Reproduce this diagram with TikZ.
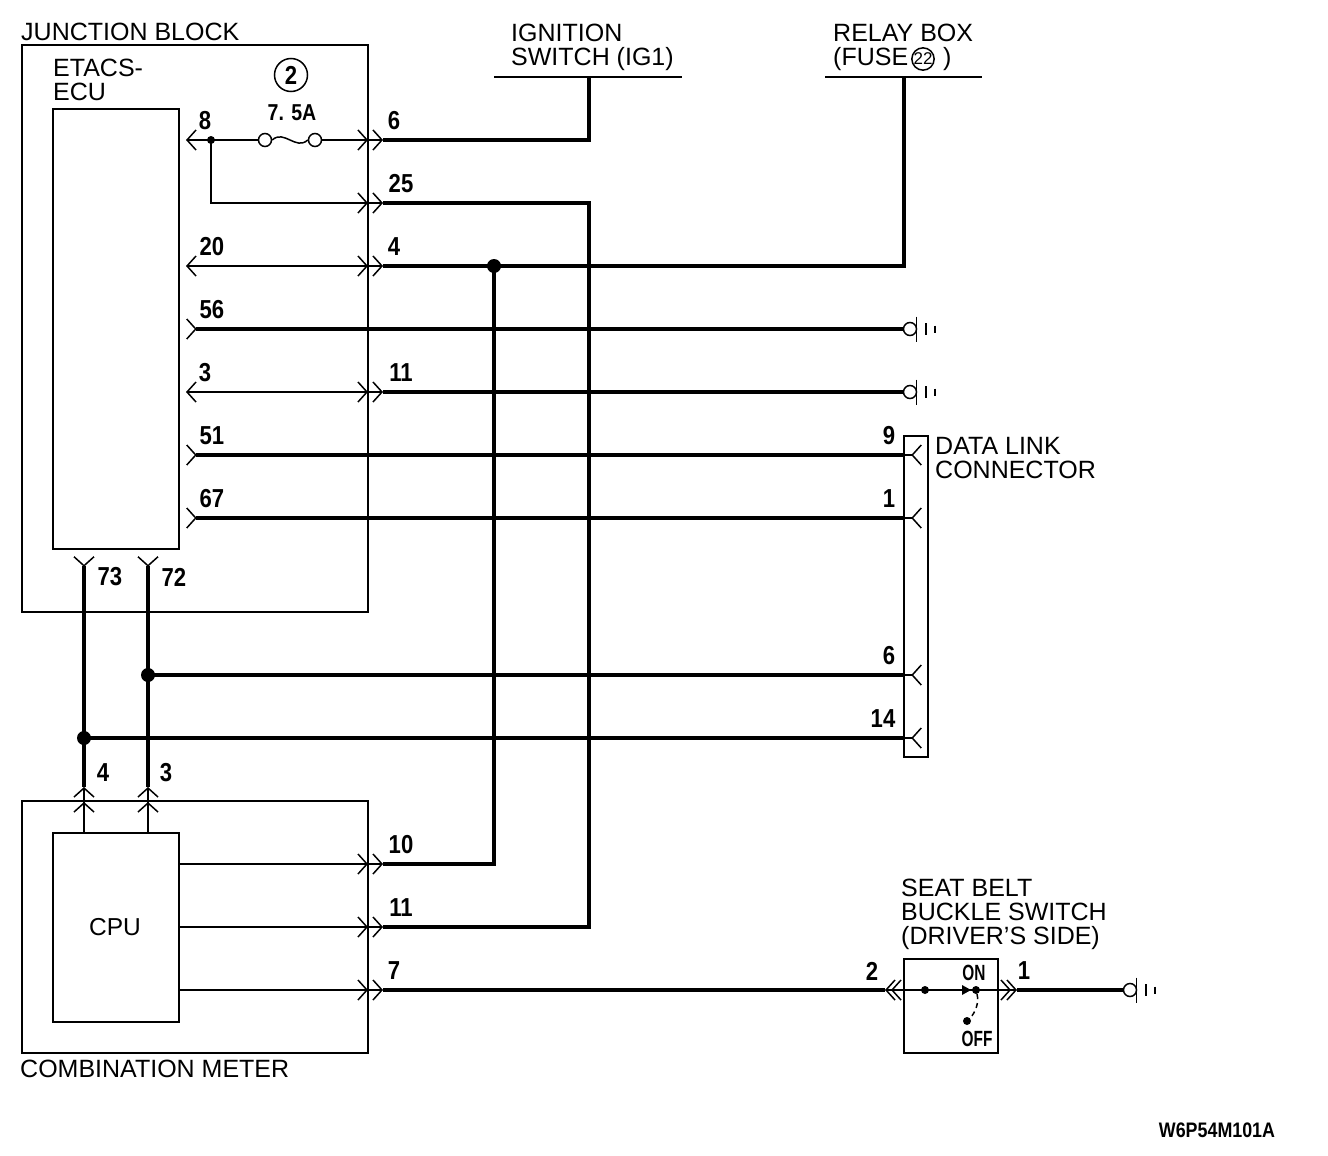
\documentclass[tikz,border=0pt]{standalone}
\usepackage{fontspec}
\setmainfont{Liberation Sans}
\newfontfamily\numfont{Liberation Sans}[FakeStretch=0.85]
\newfontfamily\tagfont{Liberation Sans}[FakeStretch=0.7]
\usetikzlibrary{arrows.meta}
\tikzset{
  barb/.tip={Straight Barb[length=9pt,width=20pt,line width=1.5pt]},
  blockbox/.style={rectangle, draw, line width=2pt, outer sep=0pt, anchor=north west},
  wire/.style={line width=1.5pt},
  power/.style={line width=4.5pt},
  headline/.style={line width=2.5pt},
  bigdot/.style={circle, fill=black, inner sep=0pt, minimum size=14pt},
  smalldot/.style={circle, fill=black, inner sep=0pt, minimum size=8pt},
  fuseend/.style={circle, draw, line width=1.5pt, fill=white, inner sep=0pt, minimum size=13pt},
  caption/.style={font=\fontsize{25}{24}\selectfont, align=left, anchor=west, inner sep=0pt},
  pinnum/.style={font=\fontsize{26}{26}\selectfont\numfont\bfseries, inner sep=0pt},
  gnd/.pic={
    \draw[wire, fill=white] (0,0) circle (6.5);
    \draw[wire] (6.5,-12.5) -- (6.5,12.5);
    \draw[line width=2pt] (16,-6) -- (16,6);
    \draw[line width=2pt] (25,-3.5) -- (25,3.5);
  }
}
\begin{document}
\begin{tikzpicture}[x=1pt, y=-1pt, >=barb]
\useasboundingbox (0,0) rectangle (1328,1156);

\node (rectJB) [blockbox, minimum width=346pt, minimum height=567pt] at (22,45) {};
\node (rectECU) [blockbox, minimum width=126pt, minimum height=440pt] at (53,109) {};
\node (rectMeter) [blockbox, minimum width=346pt, minimum height=252pt] at (22,801) {};
\node (rectCPU) [blockbox, minimum width=126pt, minimum height=189pt] at (53,833) {};
\node (rectDLC) [blockbox, minimum width=24pt, minimum height=321pt] at (904,436) {};
\node (rectSW) [blockbox, minimum width=94pt, minimum height=94pt] at (904,959) {};

\node (capJB) [caption] at (21,32) {JUNCTION BLOCK};
\node (capECU) [caption] at (53,80) {ETACS-\\ECU};
\node (capMeter) [caption] at (20,1069) {COMBINATION METER};
\node (capCPU) [font=\fontsize{24.5}{24}\selectfont, inner sep=0pt] at (115,927) {CPU};
\node (capIG) [caption] at (511,47) {IGNITION\\SWITCH (IG1)};
\node (capRelay) [caption] at (833,47) {RELAY BOX\\(FUSE \hspace{28pt})};
\node (capDLC) [caption] at (935,458) {DATA LINK\\CONNECTOR};
\node (capSW) [caption] at (901,914) {SEAT BELT\\BUCKLE SWITCH\\(DRIVER'S SIDE)};
\node (capCode) [font=\fontsize{21}{21}\selectfont\numfont\bfseries, inner sep=0pt] at (1217,1130) {W6P54M101A};
\node (circFuse) [circle, draw, line width=1.5pt, inner sep=0pt, minimum size=22pt, font=\fontsize{17}{17}\selectfont] at (923,59) {22};
\node (circTwo) [circle, draw, line width=1.5pt, inner sep=0pt, minimum size=33pt, pinnum] at (291,75) {2};
\node (capAmp) [pinnum, font=\fontsize{23}{23}\selectfont\numfont\bfseries] at (292,113) {7. 5A};

\coordinate (hdrIGa) at (494,77);
\coordinate (hdrIGb) at (682,77);
\coordinate (hdrIG) at (589,77);
\coordinate (hdrRLa) at (825,77);
\coordinate (hdrRLb) at (982,77);
\coordinate (hdrRL) at (904,77);
\draw[headline] (hdrIGa) -- (hdrIGb);
\draw[headline] (hdrRLa) -- (hdrRLb);

\coordinate (e8) at (186,140);
\coordinate (w6) at (368,140);
\coordinate (j6) at (383,140);
\coordinate (t6) at (589,140);
\node (dot8) [smalldot] at (211,140) {};
\node (fuseA) [fuseend] at (265,140) {};
\node (fuseB) [fuseend] at (315,140) {};
\draw[wire,<-] (e8) -- (dot8.center);
\draw[wire] (dot8.center) -- (fuseA);
\draw[wire] (fuseA.east) .. controls (284,129) and (296,151) .. (fuseB.west);
\draw[wire,->] (fuseB) -- (w6);
\draw[wire,->] (w6) -- (j6);
\draw[power] (hdrIG) -- (t6) -- (j6);

\coordinate (b8) at (211,203);
\coordinate (w25) at (368,203);
\coordinate (j25) at (383,203);
\coordinate (t25) at (589,203);
\coordinate (t11) at (589,927);
\coordinate (j11m) at (383,927);
\draw[wire,->] (dot8.center) -- (b8) -- (w25);
\draw[wire,->] (w25) -- (j25);
\draw[power] (j25) -- (t25) -- (t11) -- (j11m);

\coordinate (e20) at (186,266);
\coordinate (w4) at (368,266);
\coordinate (j4) at (383,266);
\coordinate (t4) at (904,266);
\coordinate (t10) at (494,864);
\coordinate (j10) at (383,864);
\node (dot4) [bigdot] at (494,266) {};
\draw[wire,<->] (e20) -- (w4);
\draw[wire,->] (w4) -- (j4);
\draw[power] (j4) -- (t4) -- (hdrRL);
\draw[power] (dot4.center) -- (t10) -- (j10);

\coordinate (e56) at (186,329);
\coordinate (g56) at (910,329);
\draw[power,{barb[reversed]}-] (e56) -- (g56);
\pic (gndA) at (g56) {gnd};

\coordinate (e3) at (186,392);
\coordinate (w11) at (368,392);
\coordinate (j11) at (383,392);
\coordinate (g11) at (910,392);
\draw[wire,<->] (e3) -- (w11);
\draw[wire,->] (w11) -- (j11);
\draw[power] (j11) -- (g11);
\pic (gndB) at (g11) {gnd};

\coordinate (e51) at (186,455);
\coordinate (d9) at (904,455);
\coordinate (p9) at (922,455);
\draw[power,{barb[reversed]}-] (e51) -- (d9);
\draw[wire,-{barb[reversed]}] (d9) -- (p9);

\coordinate (e67) at (186,518);
\coordinate (d1) at (904,518);
\coordinate (p1) at (922,518);
\draw[power,{barb[reversed]}-] (e67) -- (d1);
\draw[wire,-{barb[reversed]}] (d1) -- (p1);

\coordinate (top73) at (84,556);
\coordinate (low4) at (84,787);
\coordinate (wall4) at (84,802);
\coordinate (cpu4) at (84,833);
\coordinate (top72) at (148,556);
\coordinate (low3) at (148,787);
\coordinate (wall3) at (148,802);
\coordinate (cpu3) at (148,833);
\draw[power,{barb[reversed]}-] (top73) -- (low4);
\draw[power,{barb[reversed]}-] (top72) -- (low3);
\draw[wire,->] (cpu4) -- (low4);
\draw[wire,->] (cpu4) -- (wall4);
\draw[wire,->] (cpu3) -- (low3);
\draw[wire,->] (cpu3) -- (wall3);

\node (dot72) [bigdot] at (148,675) {};
\node (dot73) [bigdot] at (84,738) {};
\coordinate (d6) at (904,675);
\coordinate (p6) at (922,675);
\coordinate (d14) at (904,738);
\coordinate (p14) at (922,738);
\draw[power] (dot72.center) -- (d6);
\draw[power] (dot73.center) -- (d14);
\draw[wire,-{barb[reversed]}] (d6) -- (p6);
\draw[wire,-{barb[reversed]}] (d14) -- (p14);

\coordinate (c10) at (179,864);
\coordinate (w10) at (368,864);
\coordinate (c11) at (179,927);
\coordinate (w11m) at (368,927);
\coordinate (c7) at (179,990);
\coordinate (w7) at (368,990);
\coordinate (j7) at (383,990);
\draw[wire,->] (c10) -- (w10);
\draw[wire,->] (w10) -- (j10);
\draw[wire,->] (c11) -- (w11m);
\draw[wire,->] (w11m) -- (j11m);
\draw[wire,->] (c7) -- (w7);
\draw[wire,->] (w7) -- (j7);

\coordinate (sL) at (885,990);
\coordinate (sLb) at (891,990);
\coordinate (sR) at (1017,990);
\coordinate (sRb) at (1011,990);
\coordinate (g1) at (1130,990);
\draw[power] (j7) -- (sL);
\draw[wire,<->] (sL) -- (sR);
\draw[wire,<->] (sLb) -- (sRb);
\draw[power] (sR) -- (g1);
\pic (gndC) at (g1) {gnd};

\node (swA) [smalldot] at (925,990) {};
\node (swOn) [smalldot] at (976,990) {};
\node (swOff) [smalldot] at (967,1021) {};
\fill (962,985) -- (971,990) -- (962,995) -- cycle;
\draw[wire, dash pattern=on 5pt off 4pt] (swOn) .. controls (979,1002) and (976,1012) .. (swOff);
\node (capOn) [font=\fontsize{22}{22}\selectfont\tagfont\bfseries, inner sep=0pt] at (974,973) {ON};
\node (capOff) [font=\fontsize{22}{22}\selectfont\tagfont\bfseries, inner sep=0pt] at (977,1039) {OFF};

\node (n8) [pinnum] at (205,121) {8};
\node (n6) [pinnum] at (394,121) {6};
\node (n25) [pinnum] at (401,184) {25};
\node (n20) [pinnum] at (212,247) {20};
\node (n4) [pinnum] at (394,247) {4};
\node (n56) [pinnum] at (212,310) {56};
\node (n3) [pinnum] at (205,373) {3};
\node (n11) [pinnum] at (401,373) {11};
\node (n51) [pinnum] at (212,436) {51};
\node (n67) [pinnum] at (212,499) {67};
\node (n73) [pinnum] at (110,577) {73};
\node (n72) [pinnum] at (174,577) {72};
\node (n9) [pinnum] at (889,436) {9};
\node (n1) [pinnum] at (889,499) {1};
\node (n6d) [pinnum] at (889,656) {6};
\node (n14) [pinnum] at (883,719) {14};
\node (n4m) [pinnum] at (103,773) {4};
\node (n3m) [pinnum] at (166,773) {3};
\node (n10) [pinnum] at (401,845) {10};
\node (n11m) [pinnum] at (401,908) {11};
\node (n7) [pinnum] at (394,971) {7};
\node (n2s) [pinnum] at (872,971) {2};
\node (n1s) [pinnum] at (1024,971) {1};
\end{tikzpicture}
\end{document}
